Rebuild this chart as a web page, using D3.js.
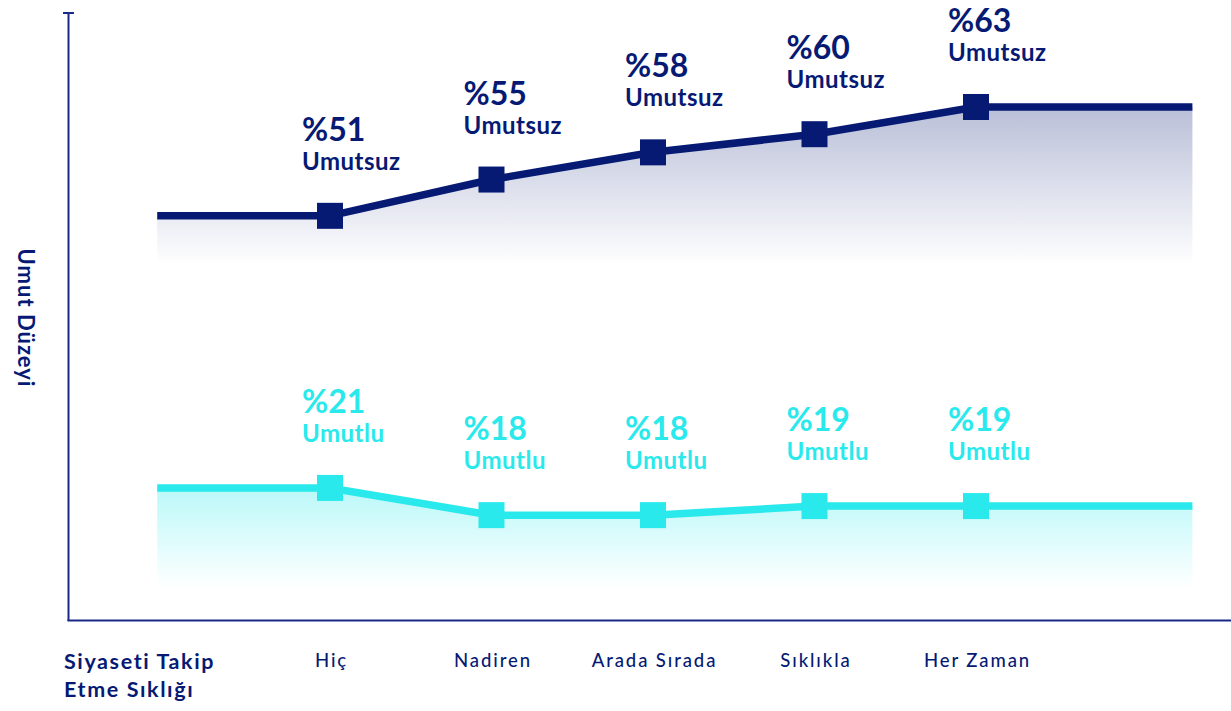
<!DOCTYPE html>
<html>
<head>
<meta charset="utf-8">
<script src="https://cdn.jsdelivr.net/npm/d3@7"></script>
<style>
  body { margin:0; background:#fff; }
  svg { display:block; font-family: Lato, "Open Sans", sans-serif; }
</style>
</head>
<body>
<svg id="chart" width="1231" height="711"></svg>
<script>
// data
const categories = ['Hiç','Nadiren','Arada Sırada','Sıklıkla','Her Zaman'];
const umutsuz = [51,55,58,60,63];
const umutlu = [21,18,18,19,19];
const seriesWords = ['Umutsuz','Umutlu'];
const xTitle = ['Siyaseti Takip','Etme Sıklığı'];
const yTitle = 'Umut Düzeyi';
// the lines run flat past the first and last category
const extendIdx = [-1.07, 5.34];
const areaBase = [45.6, 10];

const navy = '#061a74';
const axisCol = '#1a2888';
const cyan = '#29e9ec';

const svg = d3.select('#chart');
const x = d3.scaleLinear().domain([0,4]).range([330,976]);
const y = d3.scaleLinear().domain([0,70]).range([678.4,43.5]);

const defs = svg.append('defs');
function grad(id,color,op){
  const g = defs.append('linearGradient').attr('id',id)
    .attr('x1',0).attr('y1',0).attr('x2',0).attr('y2',1);
  g.append('stop').attr('offset',0).attr('stop-color',color).attr('stop-opacity',op);
  g.append('stop').attr('offset',1).attr('stop-color',color).attr('stop-opacity',0);
}
grad('gNavy',navy,0.28);
grad('gCyan',cyan,0.32);

// axes
svg.append('line').attr('x1',68.5).attr('x2',68.5).attr('y1',13).attr('y2',621)
  .style('stroke',axisCol).style('stroke-width',2);
svg.append('line').attr('x1',63).attr('x2',74).attr('y1',13).attr('y2',13)
  .style('stroke',axisCol).style('stroke-width',2);
svg.append('line').attr('x1',67.5).attr('x2',1231).attr('y1',620.5).attr('y2',620.5)
  .style('stroke',axisCol).style('stroke-width',2);

const xAxis = d3.axisBottom(x).tickValues(d3.range(categories.length))
  .tickFormat(i=>categories[i]).tickSize(0).tickPadding(0);
const gx = svg.append('g').attr('transform','translate(1,667)').call(xAxis);
gx.select('.domain').remove();
gx.selectAll('text').attr('dy',0).style('font-size','18.5px').style('font-weight',500)
  .style('letter-spacing','1.9px')
  .style('fill',navy).style('font-family','Lato, sans-serif');

svg.append('text').attr('x',64).attr('y',669)
  .style('font-size','21.5px').style('font-weight',700).style('fill',navy)
  .style('letter-spacing','1.6px')
  .selectAll('tspan').data(xTitle).enter().append('tspan')
  .attr('x',64).attr('dy',(d,i)=>i?28:0).text(d=>d);

svg.append('text').attr('transform','translate(18,318) rotate(90)')
  .attr('text-anchor','middle')
  .style('font-size','22px').style('font-weight',700).style('fill',navy)
  .style('letter-spacing','1px').text(yTitle);

function drawSeries(vals,color,gid,base,word){
  const pts = vals.map((v,i)=>({i:i,v:v}));
  const ext = [{i:extendIdx[0],v:vals[0]}].concat(pts,[{i:extendIdx[1],v:vals[vals.length-1]}]);
  const area = d3.area().x(d=>x(d.i)).y0(y(base)).y1(d=>y(d.v));
  const line = d3.line().x(d=>x(d.i)).y(d=>y(d.v));
  svg.append('path').datum(ext).attr('d',area).style('fill','url(#'+gid+')');
  svg.append('path').datum(ext).attr('d',line)
    .style('fill','none').style('stroke',color).style('stroke-width',7.5);
  svg.selectAll(null).data(pts).enter().append('rect')
    .attr('x',d=>x(d.i)-13).attr('y',d=>y(d.v)-13)
    .attr('width',26).attr('height',26).style('fill',color);
  const lab = svg.selectAll(null).data(pts).enter().append('g')
    .attr('transform',d=>`translate(${x(d.i)-28},${y(d.v)})`);
  lab.append('text').attr('y',-75).style('font-size','32px').style('font-weight',700)
    .style('fill',color).text(d=>'%'+d.v);
  lab.append('text').attr('y',-46).style('font-size','24px').style('font-weight',700)
    .style('letter-spacing','0.5px').style('fill',color).text(word);
}
drawSeries(umutsuz,navy,'gNavy',areaBase[0],seriesWords[0]);
drawSeries(umutlu,cyan,'gCyan',areaBase[1],seriesWords[1]);
</script>
</body>
</html>
